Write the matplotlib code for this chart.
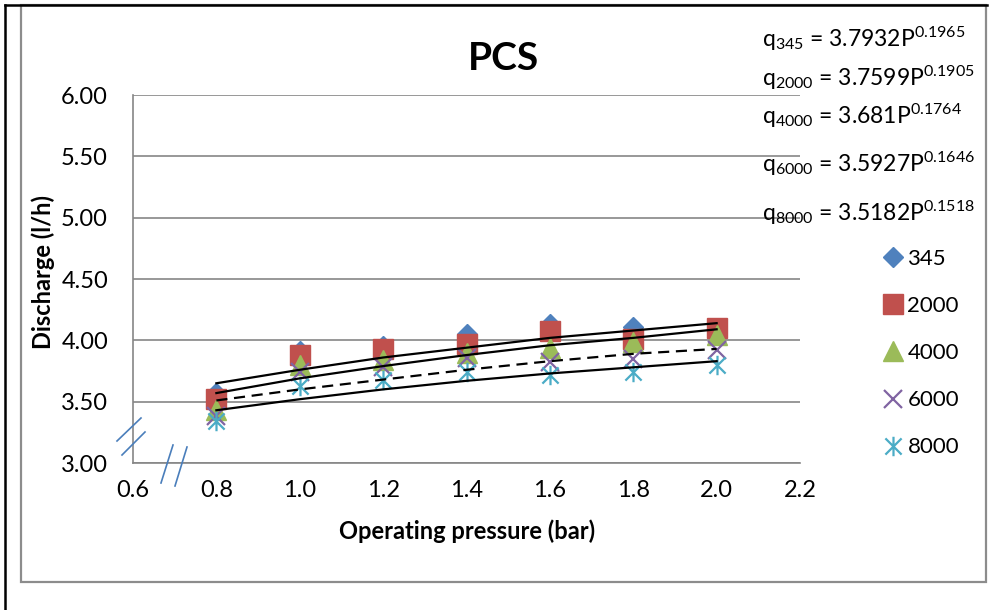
import matplotlib
matplotlib.use("Agg")
import matplotlib.pyplot as plt
from matplotlib.lines import Line2D
from matplotlib.patches import Rectangle
from matplotlib.path import Path

plt.rcParams['font.family'] = ['Lato', 'DejaVu Sans']
plt.rcParams['mathtext.fontset'] = 'custom'
plt.rcParams['mathtext.rm'] = 'Lato'
plt.rcParams['mathtext.it'] = 'Lato:italic'
plt.rcParams['mathtext.bf'] = 'Lato:bold'

# operating pressure (bar)
pressure = [0.8, 1.0, 1.2, 1.4, 1.6, 1.8, 2.0]

# measured discharge (l/h) per series
q_345 = [3.57, 3.91, 3.95, 4.05, 4.13, 4.11, 4.10]
q_2000 = [3.52, 3.88, 3.93, 3.97, 4.08, 4.01, 4.10]
q_4000 = [3.43, 3.80, 3.84, 3.90, 3.94, 3.99, 4.04]
q_6000 = [3.38, 3.74, 3.78, 3.86, 3.82, 3.85, 3.92]
q_8000 = [3.34, 3.63, 3.68, 3.74, 3.72, 3.74, 3.80]

# trend lines as drawn in the chart (read at each pressure)
trend_345 = [3.65, 3.76, 3.86, 3.94, 4.02, 4.08, 4.14]
trend_2000 = [3.57, 3.69, 3.79, 3.88, 3.96, 4.02, 4.09]
trend_6000 = [3.51, 3.60, 3.68, 3.76, 3.83, 3.89, 3.93]
trend_8000 = [3.43, 3.52, 3.60, 3.67, 3.73, 3.78, 3.83]

equations = [
    r"q$_{345}$ = 3.7932P$^{0.1965}$",
    r"q$_{2000}$ = 3.7599P$^{0.1905}$",
    r"q$_{4000}$ = 3.681P$^{0.1764}$",
    r"q$_{6000}$ = 3.5927P$^{0.1646}$",
    r"q$_{8000}$ = 3.5182P$^{0.1518}$",
]

W, H = 999, 610


def fx(x):
    return x / W


def fy(y):
    return 1 - y / H


fig = plt.figure(figsize=(9.99, 6.10), dpi=100)
fig.patch.set_facecolor('white')

# chart border (gray) and outer black lines
fig.add_artist(Rectangle((fx(21), fy(582)), fx(986) - fx(21), fy(5) - fy(582),
                         fill=False, edgecolor='#8c8c8c', linewidth=1.6))
fig.add_artist(Line2D([fx(5), fx(5)], [fy(5), fy(610)], color='black', lw=1.8))
fig.add_artist(Line2D([fx(5), fx(987)], [fy(5), fy(5)], color='black', lw=1.8))

ax = fig.add_axes([fx(133), fy(463), fx(800) - fx(133), fy(95) - fy(463)])

grid_col = '#868686'
ax.set_xlim(0.6, 2.2)
ax.set_ylim(3.0, 6.0)
ax.set_xticks([0.6, 0.8, 1.0, 1.2, 1.4, 1.6, 1.8, 2.0, 2.2])
ax.set_yticks([3.0, 3.5, 4.0, 4.5, 5.0, 5.5, 6.0])
ax.xaxis.set_major_formatter(matplotlib.ticker.FormatStrFormatter('%.1f'))
ax.yaxis.set_major_formatter(matplotlib.ticker.FormatStrFormatter('%.2f'))
ax.tick_params(axis='both', length=0, labelsize=17)
ax.tick_params(axis='x', pad=12)
ax.tick_params(axis='y', pad=18)
ax.grid(axis='y', color=grid_col, lw=1.2)
ax.set_axisbelow(True)
for s in ['top', 'right']:
    ax.spines[s].set_visible(False)
for s in ['left', 'bottom']:
    ax.spines[s].set_color(grid_col)
    ax.spines[s].set_linewidth(1.2)

star = Path([(-0.5, -0.5), (0.5, 0.5), (-0.5, 0.5), (0.5, -0.5), (0, -0.6), (0, 0.6)],
            [Path.MOVETO, Path.LINETO, Path.MOVETO, Path.LINETO, Path.MOVETO, Path.LINETO])

ax.plot(pressure, q_345, ls='none', marker='D', ms=10.5, color='#4F81BD', label='345')
ax.plot(pressure, q_2000, ls='none', marker='s', ms=14, color='#C0504D', label='2000')
ax.plot(pressure, q_4000, ls='none', marker='^', ms=14, color='#9BBB59', label='4000')
ax.plot(pressure, q_6000, ls='none', marker='x', ms=13, mew=1.6, color='#8064A2', label='6000')
ax.plot(pressure, q_8000, ls='none', marker=star, ms=14, mew=1.6, mfc='none',
        color='#4BACC6', label='8000')

ax.plot(pressure, trend_345, color='black', lw=1.6)
ax.plot(pressure, trend_2000, color='black', lw=1.6)
ax.plot(pressure, trend_6000, color='black', lw=1.6, ls=(0, (5, 3)))
ax.plot(pressure, trend_8000, color='black', lw=1.6)

fig.legend(loc='upper left', bbox_to_anchor=(fx(883), fy(249)), frameon=False,
           fontsize=16, handlelength=0.9, handletextpad=0.2, labelspacing=1.22,
           borderpad=0, borderaxespad=0)

fig.text(fx(503), fy(70), 'PCS', fontsize=28, fontweight='bold', ha='center', va='baseline')
fig.text(fx(43), fy(272), 'Discharge (l/h)', fontsize=17, fontweight='bold',
         rotation=90, ha='center', va='center')
fig.text(fx(467), fy(531), 'Operating pressure (bar)', fontsize=17, fontweight='bold',
         ha='center', va='center')

eq_y = [47, 86, 124, 172, 221]
for txt, y in zip(equations, eq_y):
    fig.text(fx(762), fy(y), txt, fontsize=16.5, ha='left', va='baseline')

# axis break marks
brk = '#4A7EBB'
for (x0, y0, x1, y1) in [(117, 441, 141, 418), (122, 455, 145, 432),
                         (161, 483, 173, 445), (175, 486, 187, 447)]:
    fig.add_artist(Line2D([fx(x0), fx(x1)], [fy(y0), fy(y1)], color=brk, lw=1.2))

fig.savefig('out.png', dpi=100)
